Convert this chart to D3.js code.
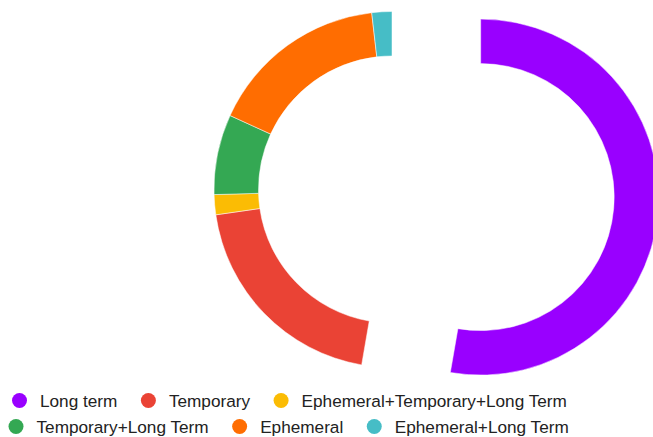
<!DOCTYPE html>
<html>
<head>
<meta charset="utf-8">
<script src="https://cdn.jsdelivr.net/npm/d3@7"></script>
<style>
html,body{margin:0;padding:0;background:#fff;overflow:hidden;}
svg{display:block;}
</style>
</head>
<body>
<svg id="chart" width="653" height="437"></svg>
<script>
const categories = ["Long term", "Temporary", "Ephemeral+Temporary+Long Term", "Temporary+Long Term", "Ephemeral", "Ephemeral+Long Term"];
const values = [29, 11, 1, 4, 9, 1];
const colors = ["#9900ff", "#ea4335", "#fbbc04", "#34a853", "#ff6d01", "#46bdc6"];
const offsets = [0.5, 0, 0, 0, 0, 0];
const legendRows = [[0, 1, 2], [3, 4, 5]];

const W = 653, H = 437;
const cx = 392, cy = 189.5, R = 178, r = 133.5;

const svg = d3.select("#chart");
const data = categories.map((c, i) => ({name: c, value: values[i], color: colors[i], offset: offsets[i]}));

const pie = d3.pie().sort(null).value(d => d.value);
const arc = d3.arc().innerRadius(r).outerRadius(R);

const g = svg.append("g").attr("transform", `translate(${cx},${cy})`);
g.selectAll("path")
  .data(pie(data))
  .join("path")
  .attr("d", arc)
  .attr("fill", d => d.data.color)
  .attr("stroke", "#fff")
  .attr("stroke-width", 0.5)
  .attr("transform", d => {
    const mid = (d.startAngle + d.endAngle) / 2;
    const off = d.data.offset * R;
    return `translate(${off * Math.sin(mid)},${-off * Math.cos(mid)})`;
  });

// Legend
const fontSize = 17.2;
const legend = svg.append("g").attr("font-family", "'Liberation Sans', Arial, sans-serif").attr("font-size", fontSize).attr("fill", "#222");
const rowY = [400.5, 426.5];
const rowStart = [19.5, 16];
const circR = 7.5, c2t = 20.5, itemGap = 31;

legendRows.forEach((row, ri) => {
  const rg = legend.append("g").attr("transform", `translate(${rowStart[ri]},0)`);
  let x = 0;
  row.forEach(idx => {
    const ig = rg.append("g").attr("transform", `translate(${x},0)`);
    ig.append("circle").attr("cx", 0).attr("cy", rowY[ri]).attr("r", circR).attr("fill", colors[idx]);
    const t = ig.append("text").attr("x", c2t).attr("y", rowY[ri] + 6).text(categories[idx]);
    const w = t.node().getComputedTextLength();
    x += c2t + w + itemGap;
  });
});
</script>
</body>
</html>
